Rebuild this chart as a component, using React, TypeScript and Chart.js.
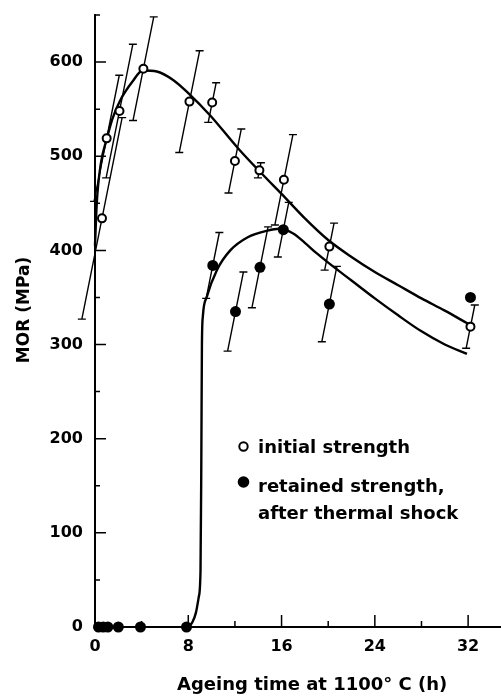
import React, { useEffect, useRef } from 'react';
import { Chart, registerables } from 'chart.js';

Chart.register(...registerables);

const FONT = "'DejaVu Sans', sans-serif";

// Initial strength (open circles)
const initialX = [0.6, 1.0, 2.1, 4.15, 8.1, 10.05, 12.0, 14.1, 16.2, 20.1, 32.2];
const initialY = [434, 519, 548, 593, 558, 557, 495, 485, 475, 404, 319];
const initialErr = [107, 67, 71, 55, 54, 21, 34, 8, 48, 25, 23];

// Retained strength after thermal shock (filled circles)
const retainedX = [0.3, 0.7, 1.1, 2.0, 3.9, 7.85, 10.1, 12.05, 14.15, 16.15, 20.1, 32.2];
const retainedY = [0, 0, 0, 0, 0, 0, 384, 335, 382, 422, 343, 350];
const retainedErr = [0, 0, 0, 0, 0, 0, 35, 42, 43, 29, 40, 0];

// Fitted curves
const initialCurveX = [0, 0.15, 0.5, 1.0, 1.5, 2.15, 3.2, 4.1, 5.3, 6.7, 8, 9.9, 12.3, 14.5, 16, 18, 20, 22, 24, 26, 28, 30, 32];
const initialCurveY = [405, 450, 492, 518, 540, 559, 579, 591, 590, 581, 567, 543, 508, 479, 460, 434, 411, 393, 377, 363, 349, 336, 322];
const retainedCurveX = [8, 8.35, 8.65, 8.9, 9.05, 9.12, 9.17, 9.25, 9.6, 10.45, 11.6, 13.1, 14.8, 15.8, 17, 18, 19, 20, 22, 24, 26, 28, 30, 31.9];
const retainedCurveY = [0, 5, 15, 32, 60, 180, 300, 330, 351, 379, 400, 414, 421, 423, 418, 408, 397, 387, 368, 349, 331, 314, 300, 290];

// Axis ticks
const yMajorTicks = [0, 100, 200, 300, 400, 500, 600];
const yMinorTicks = [50, 150, 250, 350, 450, 550, 650];
const xMajorTicks = [0, 8, 16, 24, 32];
const xMinorTicks = [4, 12, 20, 28];

const SLANT = 0.2;

const toPts = (xs: number[], ys: number[]) => xs.map((x, i) => ({ x, y: ys[i] }));

const decor = {
  id: 'decor',
  beforeDatasetsDraw(chart: any) {
    const { ctx, scales } = chart;
    const xs = scales.x;
    const ys = scales.y;
    ctx.save();
    ctx.strokeStyle = '#000';
    ctx.lineWidth = 1.4;
    const sets = [
      { X: initialX, Y: initialY, E: initialErr },
      { X: retainedX, Y: retainedY, E: retainedErr },
    ];
    for (const s of sets) {
      s.X.forEach((xv, i) => {
        const e = s.E[i];
        if (!e) return;
        const px = xs.getPixelForValue(xv);
        const py = ys.getPixelForValue(s.Y[i]);
        const pt = ys.getPixelForValue(s.Y[i] + e);
        const pb = ys.getPixelForValue(s.Y[i] - e);
        const xt = px + SLANT * (py - pt);
        const xb = px - SLANT * (pb - py);
        ctx.beginPath();
        ctx.moveTo(xb, pb);
        ctx.lineTo(xt, pt);
        ctx.moveTo(xt - 4, pt);
        ctx.lineTo(xt + 4, pt);
        ctx.moveTo(xb - 4, pb);
        ctx.lineTo(xb + 4, pb);
        ctx.stroke();
      });
    }
    ctx.restore();
  },
  afterDraw(chart: any) {
    const { ctx, scales, chartArea } = chart;
    const xs = scales.x;
    const ys = scales.y;
    ctx.save();
    ctx.strokeStyle = '#000';
    ctx.fillStyle = '#000';
    ctx.lineWidth = 1.5;
    const left = chartArea.left;
    const bottom = chartArea.bottom;
    ctx.beginPath();
    yMajorTicks.forEach((v) => {
      const p = ys.getPixelForValue(v);
      ctx.moveTo(left, p);
      ctx.lineTo(left + 11, p);
    });
    yMinorTicks.forEach((v) => {
      const p = ys.getPixelForValue(v);
      ctx.moveTo(left, p);
      ctx.lineTo(left + 5, p);
    });
    xMajorTicks.forEach((v) => {
      const p = xs.getPixelForValue(v);
      ctx.moveTo(p, bottom);
      ctx.lineTo(p, bottom - 12);
    });
    xMinorTicks.forEach((v) => {
      const p = xs.getPixelForValue(v);
      ctx.moveTo(p, bottom);
      ctx.lineTo(p, bottom - 6);
    });
    ctx.stroke();

    // axis titles
    ctx.font = `bold 17px ${FONT}`;
    ctx.textBaseline = 'alphabetic';
    ctx.textAlign = 'center';
    ctx.save();
    ctx.translate(29, 310);
    ctx.rotate(-Math.PI / 2);
    ctx.fillText('MOR (MPa)', 0, 0);
    ctx.restore();

    ctx.font = `bold 18px ${FONT}`;
    ctx.textAlign = 'left';
    ctx.fillText('Ageing time at 1100° C (h)', 177, 690);

    // legend
    ctx.beginPath();
    ctx.lineWidth = 2;
    ctx.arc(243.5, 446.5, 4.2, 0, Math.PI * 2);
    ctx.fillStyle = '#fff';
    ctx.fill();
    ctx.stroke();
    ctx.fillStyle = '#000';
    ctx.beginPath();
    ctx.arc(243.5, 482, 5.8, 0, Math.PI * 2);
    ctx.fill();
    ctx.font = `bold 18px ${FONT}`;
    ctx.fillText('initial strength', 258, 453);
    ctx.fillText('retained strength,', 258, 491.5);
    ctx.fillText('after thermal shock', 258, 518.5);
    ctx.restore();
  },
};

export default function App() {
  const ref = useRef<HTMLCanvasElement>(null);
  useEffect(() => {
    const canvas = ref.current;
    if (!canvas) return;
    const tickFont = { family: FONT, size: 16, weight: 'bold' as const };
    const chart = new Chart(canvas, {
      type: 'scatter',
      data: {
        datasets: [
          {
            label: 'initial strength',
            data: toPts(initialX, initialY),
            showLine: false,
            pointRadius: 4,
            pointBorderWidth: 2,
            pointBackgroundColor: '#fff',
            pointBorderColor: '#000',
            clip: false,
          } as any,
          {
            label: 'retained strength, after thermal shock',
            data: toPts(retainedX, retainedY),
            showLine: false,
            pointRadius: 5.5,
            pointBorderWidth: 0,
            pointBackgroundColor: '#000',
            pointBorderColor: '#000',
            clip: false,
          } as any,
          {
            type: 'line',
            label: 'initial fit',
            data: toPts(initialCurveX, initialCurveY),
            borderColor: '#000',
            borderWidth: 2.4,
            pointRadius: 0,
            fill: false,
            cubicInterpolationMode: 'monotone',
            clip: false,
          } as any,
          {
            type: 'line',
            label: 'retained fit',
            data: toPts(retainedCurveX, retainedCurveY),
            borderColor: '#000',
            borderWidth: 2.4,
            pointRadius: 0,
            fill: false,
            cubicInterpolationMode: 'monotone',
            clip: false,
          } as any,
        ],
      },
      options: {
        responsive: false,
        animation: false,
        layout: { autoPadding: false, padding: { top: 15, left: 0, right: 0, bottom: 0 } },
        plugins: { legend: { display: false }, tooltip: { enabled: false } },
        scales: {
          x: {
            type: 'linear',
            min: 0,
            max: 34.82,
            grid: { display: false, drawTicks: false },
            border: { display: true, color: '#000', width: 2 },
            ticks: { stepSize: 8, includeBounds: false, padding: 10, color: '#000', font: tickFont, maxRotation: 0 },
            afterFit(s: any) {
              s.height = 71;
              s.paddingLeft = 0;
              s.paddingRight = 0;
            },
          },
          y: {
            type: 'linear',
            min: 0,
            max: 650,
            grid: { display: false, drawTicks: false },
            border: { display: true, color: '#000', width: 2 },
            ticks: { stepSize: 100, includeBounds: false, padding: 12, color: '#000', font: tickFont },
            afterFit(s: any) {
              s.width = 95;
              s.paddingTop = 0;
              s.paddingBottom = 0;
            },
          },
        },
      },
      plugins: [decor],
    });
    return () => chart.destroy();
  }, []);
  return (
    <div style={{ position: 'absolute', left: 0, top: 0, width: 501, height: 698, background: '#fff' }}>
      <canvas ref={ref} width={501} height={698} style={{ display: 'block' }} />
    </div>
  );
}
